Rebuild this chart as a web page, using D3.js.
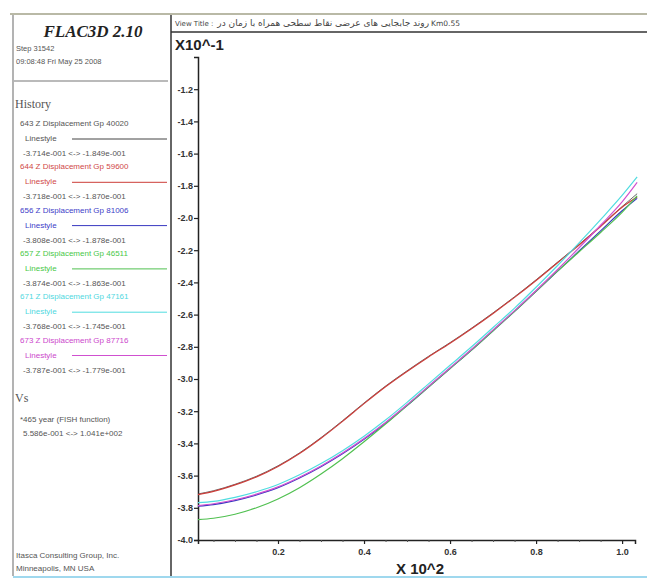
<!DOCTYPE html>
<html>
<head>
<meta charset="utf-8">
<script src="https://cdn.jsdelivr.net/npm/d3@7"></script>
<style>
  html, body { margin: 0; padding: 0; background: #fff; }
  svg { display: block; }
</style>
</head>
<body>
<svg id="chart" width="647" height="579"></svg>
<script>
// ---------------- data ----------------
const timeX = [0.014, 0.05, 0.1, 0.15, 0.2, 0.25, 0.3, 0.35, 0.4, 0.45, 0.5, 0.55, 0.6, 0.65, 0.7, 0.75, 0.8, 0.85, 0.9, 0.95, 1.0, 1.035];
const gp40020 = [-3.714, -3.694, -3.654, -3.604, -3.539, -3.459, -3.364, -3.259, -3.149, -3.044, -2.949, -2.859, -2.774, -2.684, -2.589, -2.489, -2.384, -2.274, -2.164, -2.049, -1.929, -1.849];
const gp59600 = [-3.718, -3.698, -3.658, -3.608, -3.543, -3.463, -3.368, -3.263, -3.153, -3.048, -2.953, -2.863, -2.778, -2.688, -2.593, -2.493, -2.388, -2.278, -2.168, -2.053, -1.933, -1.870];
const gp81006 = [-3.790, -3.780, -3.755, -3.720, -3.675, -3.615, -3.545, -3.465, -3.375, -3.275, -3.165, -3.050, -2.935, -2.820, -2.700, -2.580, -2.455, -2.330, -2.205, -2.080, -1.955, -1.878];
const gp46511 = [-3.874, -3.865, -3.840, -3.800, -3.745, -3.675, -3.590, -3.495, -3.390, -3.280, -3.165, -3.050, -2.935, -2.820, -2.700, -2.580, -2.455, -2.330, -2.210, -2.090, -1.965, -1.863];
const gp47161 = [-3.768, -3.760, -3.735, -3.700, -3.655, -3.595, -3.525, -3.445, -3.355, -3.255, -3.145, -3.030, -2.915, -2.800, -2.680, -2.560, -2.430, -2.295, -2.155, -2.010, -1.860, -1.745];
const gp87716 = [-3.787, -3.775, -3.750, -3.715, -3.670, -3.610, -3.540, -3.460, -3.370, -3.270, -3.160, -3.045, -2.930, -2.815, -2.695, -2.575, -2.450, -2.320, -2.185, -2.045, -1.900, -1.779];

const seriesNames = ["643 Z Displacement Gp 40020", "644 Z Displacement Gp 59600", "656 Z Displacement Gp 81006",
                     "657 Z Displacement Gp 46511", "671 Z Displacement Gp 47161", "673 Z Displacement Gp 87716"];
const seriesRanges = ["-3.714e-001 <-> -1.849e-001", "-3.718e-001 <-> -1.870e-001", "-3.808e-001 <-> -1.878e-001",
                      "-3.874e-001 <-> -1.863e-001", "-3.768e-001 <-> -1.745e-001", "-3.787e-001 <-> -1.779e-001"];
const seriesValues = [gp40020, gp59600, gp81006, gp46511, gp47161, gp87716];
const seriesColors = ["#444444", "#cc3c38", "#3838c0", "#50c050", "#50dce0", "#d050d0"];
const textColors = ["#555555", "#d04848", "#4040c8", "#48c848", "#50d8e0", "#cc48cc"];

const yTicks = [-4.0, -3.8, -3.6, -3.4, -3.2, -3.0, -2.8, -2.6, -2.4, -2.2, -2.0, -1.8, -1.6, -1.4, -1.2];
const xTicks = [0.2, 0.4, 0.6, 0.8, 1.0];
const xMinorTicks = [0.05, 0.1, 0.15, 0.25, 0.3, 0.35, 0.45, 0.5, 0.55, 0.65, 0.7, 0.75, 0.85, 0.9, 0.95];

// ---------------- drawing ----------------
const svg = d3.select("#chart");
const SANS = "Arial, 'Liberation Sans', sans-serif";

// outer frame lines
svg.append("line").attr("x1", 10).attr("x2", 647).attr("y1", 14).attr("y2", 14)
  .attr("stroke", "#b9b9a6").attr("stroke-width", 2);
svg.append("line").attr("x1", 13).attr("x2", 13).attr("y1", 15).attr("y2", 576)
  .attr("stroke", "#9a9a9a").attr("stroke-width", 1.5);
svg.append("line").attr("x1", 171).attr("x2", 171).attr("y1", 15).attr("y2", 576)
  .attr("stroke", "#333").attr("stroke-width", 1.5);
svg.append("line").attr("x1", 171).attr("x2", 647).attr("y1", 32).attr("y2", 32)
  .attr("stroke", "#333").attr("stroke-width", 1.5);
svg.append("line").attr("x1", 13).attr("x2", 647).attr("y1", 577).attr("y2", 577)
  .attr("stroke", "#9fd8ee").attr("stroke-width", 2);

// ---- left panel ----
const lp = svg.append("g");
lp.append("text").attr("x", 93).attr("y", 37).attr("text-anchor", "middle")
  .attr("font-family", "'Liberation Serif', 'Times New Roman', serif").attr("font-size", 17)
  .attr("font-weight", "bold").attr("font-style", "italic").attr("fill", "#222").text("FLAC3D 2.10");
lp.append("text").attr("x", 16).attr("y", 51).attr("font-family", SANS).attr("font-size", 7.5)
  .attr("fill", "#555").text("Step 31542");
lp.append("text").attr("x", 16).attr("y", 64).attr("font-family", SANS).attr("font-size", 7.5)
  .attr("fill", "#555").text("09:08:48 Fri May 25 2008");
lp.append("line").attr("x1", 14).attr("x2", 168).attr("y1", 81).attr("y2", 81)
  .attr("stroke", "#777").attr("stroke-width", 1.2);
lp.append("text").attr("x", 15).attr("y", 108).attr("font-family", "'Liberation Serif', serif")
  .attr("font-size", 12).attr("fill", "#555").text("History");

seriesNames.forEach((name, i) => {
  const y0 = 126 + i * 43.3;
  lp.append("text").attr("x", 20).attr("y", y0).attr("font-family", SANS).attr("font-size", 8)
    .attr("fill", textColors[i]).text(name);
  lp.append("text").attr("x", 25).attr("y", y0 + 15).attr("font-family", SANS).attr("font-size", 8)
    .attr("fill", textColors[i]).text("Linestyle");
  lp.append("line").attr("x1", 72).attr("x2", 167).attr("y1", y0 + 13).attr("y2", y0 + 13)
    .attr("stroke", seriesColors[i]).attr("stroke-width", 1);
  lp.append("text").attr("x", 23).attr("y", y0 + 30).attr("font-family", SANS).attr("font-size", 8)
    .attr("fill", "#555").text(seriesRanges[i]);
});

lp.append("text").attr("x", 15).attr("y", 402).attr("font-family", "'Liberation Serif', serif")
  .attr("font-size", 12).attr("fill", "#555").text("Vs");
lp.append("text").attr("x", 20).attr("y", 422).attr("font-family", SANS).attr("font-size", 8)
  .attr("fill", "#555").text("*465 year (FISH function)");
lp.append("text").attr("x", 23).attr("y", 436).attr("font-family", SANS).attr("font-size", 8)
  .attr("fill", "#555").text("5.586e-001 <-> 1.041e+002");
lp.append("text").attr("x", 16).attr("y", 558).attr("font-family", SANS).attr("font-size", 8)
  .attr("fill", "#555").text("Itasca Consulting Group, Inc.");
lp.append("text").attr("x", 16).attr("y", 571).attr("font-family", SANS).attr("font-size", 8)
  .attr("fill", "#555").text("Minneapolis, MN USA");

// ---- view title ----
const vt = svg.append("g").attr("font-family", "'DejaVu Sans', sans-serif").attr("fill", "#444");
vt.append("text").attr("x", 175).attr("y", 26).attr("font-size", 7).text("View Title :");
vt.append("text").attr("x", 429).attr("y", 26).attr("font-size", 9).attr("text-anchor", "end")
  .text("روند جابجایی های عرضی نقاط سطحی همراه با زمان در");
vt.append("text").attr("x", 431).attr("y", 26).attr("font-size", 7.5).text("Km0.55");

// ---- plot ----
const x = d3.scaleLinear().domain([0.014, 1.030]).range([198, 635]);
const y = d3.scaleLinear().domain([-4.0, -1.0]).range([540, 57]);

svg.append("text").attr("x", 175).attr("y", 50).attr("font-family", SANS).attr("font-size", 15)
  .attr("font-weight", "bold").attr("fill", "#222").text("X10^-1");

const yAxis = d3.axisLeft(y).tickValues(yTicks).tickFormat(d3.format(".1f")).tickSize(4).tickPadding(1);
const yg = svg.append("g").attr("transform", "translate(198,0)").call(yAxis);
yg.select(".domain").attr("stroke", "#222").attr("stroke-width", 1.5);
yg.selectAll(".tick line").attr("stroke", "#222").attr("stroke-width", 1.2);
yg.selectAll(".tick text").attr("font-family", SANS).attr("font-size", 9).attr("font-weight", "bold")
  .attr("fill", "#333").text(d => d3.format(".1f")(d).replace("−", "-"));

const xAxis = d3.axisBottom(x).tickValues(xTicks).tickFormat(d3.format(".1f")).tickSize(4).tickPadding(5);
const xg = svg.append("g").attr("transform", "translate(0,540)").call(xAxis);
xg.select(".domain").attr("stroke", "#222").attr("stroke-width", 1.5);
xg.selectAll(".tick line").attr("stroke", "#222").attr("stroke-width", 1.2);
xg.selectAll(".tick text").attr("font-family", SANS).attr("font-size", 9).attr("font-weight", "bold").attr("fill", "#333");
const xmg = svg.append("g").attr("transform", "translate(0,540)")
  .call(d3.axisBottom(x).tickValues(xMinorTicks).tickFormat("").tickSize(2));
xmg.select(".domain").remove();
xmg.selectAll(".tick line").attr("stroke", "#555");

svg.append("text").attr("x", 420).attr("y", 574).attr("text-anchor", "middle").attr("font-family", SANS)
  .attr("font-size", 15).attr("font-weight", "bold").attr("fill", "#222").text("X 10^2");

const line = d3.line().x((d, i) => x(timeX[i])).y(d => y(d)).curve(d3.curveMonotoneX);
seriesValues.forEach((vals, i) => {
  svg.append("path").datum(vals).attr("d", line).attr("fill", "none")
    .attr("stroke", seriesColors[i]).attr("stroke-width", i === 0 ? 0.8 : 1.2);
});
</script>
</body>
</html>
